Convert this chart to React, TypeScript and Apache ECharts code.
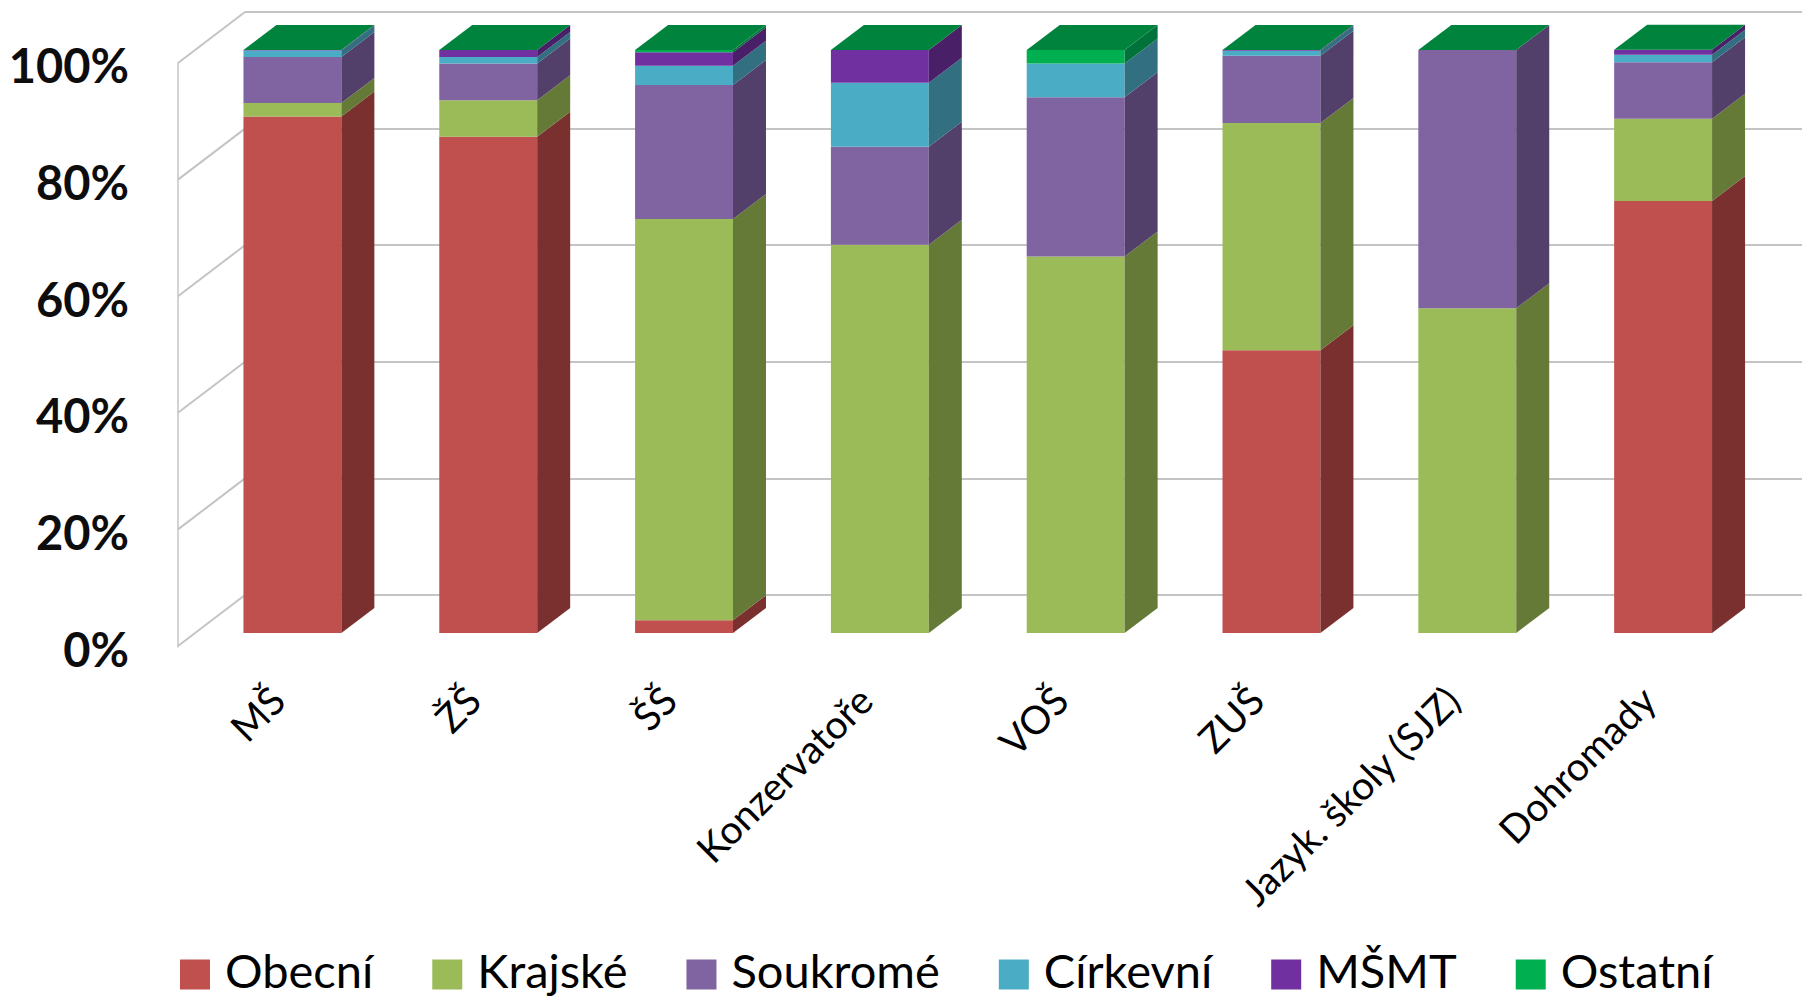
import React, { useEffect, useRef } from "react";
import * as echarts from "echarts";

const categories = ["MŠ", "ŽŠ", "ŠŠ", "Konzervatoře", "VOŠ", "ZUŠ", "Jazyk. školy (SJZ)", "Dohromady"];
const seriesNames = ["Obecní", "Krajské", "Soukromé", "Církevní", "MŠMT", "Ostatní"];
const obecni = [88.6, 85.1, 2.2, 0, 0, 48.5, 0, 74.1];
const krajske = [2.3, 6.3, 68.8, 66.6, 64.6, 39.0, 55.7, 14.1];
const soukrome = [7.9, 6.3, 23.0, 16.8, 27.3, 11.5, 44.3, 9.7];
const cirkevni = [1.1, 1.1, 3.3, 11.0, 5.8, 0.85, 0, 1.3];
const msmt = [0.1, 1.2, 2.3, 5.6, 0, 0.15, 0, 0.85];
const ostatni = [0, 0, 0.4, 0, 2.3, 0, 0, 0];
const ticks = [0, 20, 40, 60, 80, 100];

const frontColors = ["#C0504D", "#9BBB59", "#8064A2", "#4BACC6", "#7030A0", "#00B050"];
const sideColors = ["#7A302E", "#657A37", "#523F6A", "#316F81", "#491F68", "#00723A"];
const topColor = "#00843D";
const wallColor = "#C4C4C4";
const FONT = "Lato";
const DX = 33;
const DY = 25;

const allValues = [obecni, krajske, soukrome, cirkevni, msmt, ostatni];

function App() {
  const ref = useRef<HTMLDivElement>(null);
  useEffect(() => {
    const chart = echarts.init(ref.current!, undefined, { renderer: "svg" });
    const barSeries = seriesNames.map((name, s) => ({
      name,
      type: "custom",
      xAxisIndex: 2,
      yAxisIndex: 2,
      itemStyle: { color: frontColors[s] },
      encode: { x: 0, y: [1, 2] },
      data: categories.map((_, c) => {
        let start = 0;
        for (let k = 0; k < s; k++) start += allValues[k][c];
        return [c, start, start + allValues[s][c]];
      }),
      renderItem: (_p: any, api: any) => {
        const c = api.value(0);
        const low = api.coord([c, api.value(1)]);
        const high = api.coord([c, api.value(2)]);
        const w = api.size([1, 0])[0] * 0.5;
        const x0 = low[0] - w / 2;
        const x1 = low[0] + w / 2;
        const children: any[] = [];
        if (api.value(2) > api.value(1)) {
          children.push({
            type: "polygon",
            shape: { points: [[x0, high[1]], [x1, high[1]], [x1, low[1]], [x0, low[1]]] },
            style: { fill: frontColors[s] },
          });
          children.push({
            type: "polygon",
            shape: { points: [[x1, high[1]], [x1 + DX, high[1] - DY], [x1 + DX, low[1] - DY], [x1, low[1]]] },
            style: { fill: sideColors[s] },
          });
        }
        if (s === seriesNames.length - 1) {
          children.push({
            type: "polygon",
            shape: { points: [[x0, high[1]], [x1, high[1]], [x1 + DX, high[1] - DY], [x0 + DX, high[1] - DY]] },
            style: { fill: topColor },
          });
        }
        return { type: "group", children };
      },
    }));

    chart.setOption({
      animation: false,
      backgroundColor: "#ffffff",
      grid: [
        { left: 245, top: 12, width: 1557, height: 583 },
        { left: 178, top: 63, width: 60, height: 584 },
        { left: 194.5, top: 50, width: 1566.5, height: 583 },
        { left: 179.5, top: 50, width: 1566.5, height: 583 },
      ],
      xAxis: [
        { gridIndex: 0, type: "value", min: 0, max: 1, show: false },
        { gridIndex: 1, type: "category", data: categories, show: false },
        { gridIndex: 2, type: "category", data: categories, show: false },
        {
          gridIndex: 3,
          type: "category",
          data: categories,
          axisLine: { show: false },
          axisTick: { show: false },
          axisLabel: {
            interval: 0,
            rotate: 45,
            margin: 60,
            fontFamily: FONT,
            fontSize: 39,
            color: "#000000",
          },
        },
      ],
      yAxis: [
        {
          gridIndex: 0,
          type: "value",
          min: 0,
          max: 100,
          interval: 20,
          axisLine: { show: false },
          axisTick: { show: false },
          axisLabel: { show: false },
          splitLine: { show: true, lineStyle: { color: wallColor, width: 2 } },
        },
        {
          gridIndex: 1,
          type: "value",
          min: 0,
          max: 100,
          interval: 20,
          axisLine: { show: true, lineStyle: { color: wallColor, width: 1.5 } },
          axisTick: { show: false },
          splitLine: { show: false },
          axisLabel: {
            margin: 49,
            formatter: "{t|{value}%}",
            rich: {
              t: {
                fontFamily: FONT,
                fontSize: 47,
                fontWeight: "bold",
                color: "#0D0D0D",
                padding: [4, 0, 0, 0],
              },
            },
          },
        },
        { gridIndex: 2, type: "value", min: 0, max: 100, show: false },
        { gridIndex: 3, type: "value", min: 0, max: 100, show: false },
      ],
      legend: {
        left: 175,
        top: 941,
        itemWidth: 30,
        itemHeight: 30,
        itemGap: 59,
        icon: "rect",
        data: seriesNames,
        formatter: "{t|{name}}",
        textStyle: {
          padding: [0, 0, 0, 10],
          rich: {
            t: {
              fontFamily: FONT,
              fontSize: 47,
              lineHeight: 44,
              color: "#000000",
              padding: [0, 0, 10, 0],
            },
          },
        },
      },
      series: [
        {
          type: "custom",
          name: "walls",
          xAxisIndex: 0,
          yAxisIndex: 0,
          silent: true,
          data: ticks.map((t) => [0, t]),
          renderItem: (_p: any, api: any) => {
            const p = api.coord([0, api.value(1)]);
            return {
              type: "line",
              shape: { x1: p[0], y1: p[1], x2: p[0] - 67, y2: p[1] + 51 },
              style: { stroke: wallColor, lineWidth: 2, fill: "none" },
            };
          },
        },
        ...barSeries,
      ],
    });
    return () => chart.dispose();
  }, []);
  return (
    <div
      ref={ref}
      style={{ position: "absolute", left: 0, top: 0, width: 1802, height: 997, background: "#fff" }}
    />
  );
}

export default App;
